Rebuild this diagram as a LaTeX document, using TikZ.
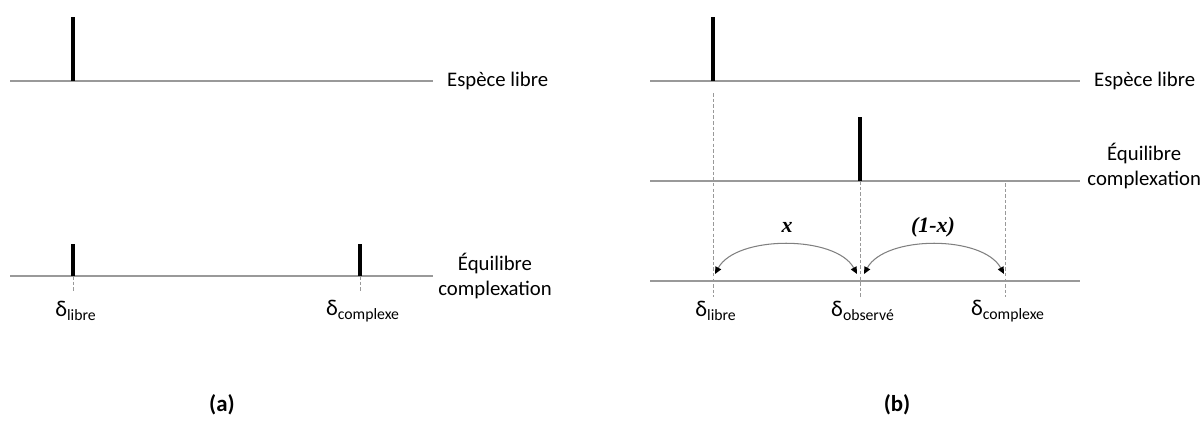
\documentclass[tikz,border=0pt]{standalone}
\usepackage{fontspec}
\setmainfont{Carlito}
\newfontfamily\serifit{Liberation Serif}
\usetikzlibrary{arrows.meta}
\begin{document}
\begin{tikzpicture}[x=0.02cm,y=-0.02cm,
	ligne/.style={draw=gray!80,line width=1.1pt},
	raie/.style={line width=2.8pt},
	guide/.style={draw=gray!80,line width=0.5pt,dash pattern=on 2pt off 1.2pt},
	fleche/.style={draw=gray,line width=0.6pt,{Triangle[length=4pt,width=3.6pt,color=black]}-{Triangle[length=4pt,width=3.6pt,color=black]}},
	etiq/.style={align=center,font=\fontsize{11.8}{14}\selectfont},
	delta/.style={font=\fontsize{12.8}{15}\selectfont},
	font=\fontsize{11.8}{14}\selectfont]
	\useasboundingbox (0,0) rectangle (1203,420);
	% (a)
	\coordinate (a1) at (10,81);
	\coordinate (a2) at (433,81);
	\coordinate (a3) at (10,276);
	\coordinate (a4) at (433,276);
	\coordinate (P1) at (73,17);
	\coordinate (Q1) at (73,81);
	\coordinate (P2) at (73,244);
	\coordinate (Q2) at (73,276);
	\coordinate (P3) at (360,244);
	\coordinate (Q3) at (360,276);
	\coordinate (R2) at (73,292);
	\coordinate (R3) at (360,292);
	\draw[ligne] (a1) -- (a2);
	\draw[ligne] (a3) -- (a4);
	\draw[raie] (P1) -- (Q1);
	\draw[raie] (P2) -- (Q2);
	\draw[raie] (P3) -- (Q3);
	\draw[guide] (Q2) -- (R2);
	\draw[guide] (Q3) -- (R3);
	\node[right,etiq] (ta1) at (441,81) {Espèce libre};
	\node[etiq] (ta2) at (495,276) {Équilibre\\complexation};
	\node[delta] (da1) at (76,311) {δ\textsubscript{libre}};
	\node[delta] (da2) at (363,311) {δ\textsubscript{complexe}};
	\node[font=\fontsize{13}{15}\selectfont\bfseries] (ta) at (222,405) {(a)};
	% (b)
	\coordinate (b1) at (650,81);
	\coordinate (b2) at (1080,81);
	\coordinate (b3) at (650,181);
	\coordinate (b4) at (1080,181);
	\coordinate (b5) at (650,281);
	\coordinate (b6) at (1080,281);
	\coordinate (S1) at (713,17);
	\coordinate (T1) at (713,81);
	\coordinate (S2) at (860,117);
	\coordinate (T2) at (860,181);
	\coordinate (U1) at (713,93);
	\coordinate (U3) at (1005,183);
	\coordinate (V1) at (713,297);
	\coordinate (V2) at (860,297);
	\coordinate (V3) at (1005,297);
	\draw[ligne] (b1) -- (b2);
	\draw[ligne] (b3) -- (b4);
	\draw[ligne] (b5) -- (b6);
	\draw[raie] (S1) -- (T1);
	\draw[raie] (S2) -- (T2);
	\draw[guide] (U1) -- (V1);
	\draw[guide] (T2) -- (V2);
	\draw[guide] (U3) -- (V3);
	\coordinate (F1) at (715,274);
	\coordinate (F2) at (857,274);
	\coordinate (F3) at (864,274);
	\coordinate (F4) at (1004,274);
	\draw[fleche] (F2) .. controls (836,235) and (736,235) .. (F1);
	\draw[fleche] (F3) .. controls (885,235) and (983,235) .. (F4);
	\node[font=\serifit\itshape\bfseries\fontsize{12.5}{14}\selectfont] (x1) at (787,227) {x};
	\node[font=\serifit\itshape\bfseries\fontsize{12.5}{14}\selectfont] (x2) at (933,227) {(1-x)};
	\node[right,etiq] (tb1) at (1088,81) {Espèce libre};
	\node[left,etiq,inner xsep=1pt] (tb2) at (1203,166) {Équilibre\\complexation};
	\node[delta] (db1) at (716,311) {δ\textsubscript{libre}};
	\node[delta] (db2) at (863,311) {δ\textsubscript{observé}};
	\node[delta] (db3) at (1008,311) {δ\textsubscript{complexe}};
	\node[font=\fontsize{13}{15}\selectfont\bfseries] (tb) at (897,405) {(b)};
\end{tikzpicture}
\end{document}
